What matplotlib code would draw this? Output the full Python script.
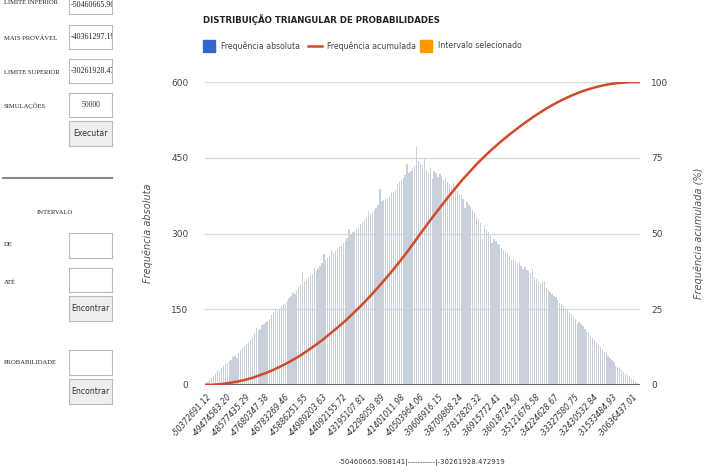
import matplotlib.pyplot as plt
from matplotlib.patches import Rectangle
import numpy as np

plt.rcParams['font.family'] = ['DejaVu Sans']

# absolute frequency per bin
freq = [
    3, 6, 10, 13, 18, 22, 30, 27, 33, 38,
    41, 44, 47, 50, 55, 57, 54, 63, 70, 73,
    78, 81, 86, 90, 95, 103, 112, 106, 110, 118,
    121, 124, 127, 131, 138, 144, 151, 146, 150, 157,
    161, 163, 166, 172, 177, 183, 180, 186, 194, 200,
    224, 205, 209, 213, 218, 220, 232, 226, 230, 236,
    241, 259, 247, 251, 256, 268, 262, 265, 270, 274,
    276, 281, 286, 292, 308, 299, 303, 305, 309, 310,
    318, 322, 326, 333, 344, 338, 341, 347, 351, 356,
    389, 364, 366, 370, 368, 374, 380, 382, 386, 398,
    402, 406, 410, 415, 437, 420, 424, 430, 433, 472,
    444, 438, 436, 448, 426, 419, 430, 408, 424, 420,
    411, 418, 414, 405, 409, 402, 398, 393, 400, 390,
    384, 378, 376, 369, 350, 362, 357, 353, 346, 340,
    332, 328, 320, 290, 316, 309, 302, 296, 282, 289,
    285, 279, 277, 272, 268, 263, 259, 254, 247, 250,
    245, 241, 243, 236, 230, 233, 227, 226, 221, 230,
    213, 210, 205, 200, 203, 206, 192, 188, 184, 180,
    176, 174, 168, 163, 160, 157, 150, 151, 145, 141,
    135, 131, 120, 124, 121, 116, 110, 104, 102, 97,
    93, 90, 84, 80, 76, 72, 66, 63, 58, 54,
    49, 45, 38, 36, 33, 29, 26, 22, 20, 17,
    12, 9, 6, 4, 2,
]

tick_labels = [
    '-50372691.12', '-49474563.20', '-48577435.29', '-47680347.38',
    '-46783269.46', '-45886251.55', '-44989203.63', '-44092155.72',
    '-43195107.81', '-42298059.89', '-41401011.98', '-40503964.06',
    '-39606916.15', '-38709868.24', '-37812820.32', '-36915772.41',
    '-36018724.50', '-35121676.58', '-34224628.67', '-33327580.75',
    '-32430532.84', '-31533484.93', '-30636437.01',
]

left_ticks = [0, 150, 300, 450, 600]
right_ticks = [0, 25, 50, 75, 100]

lim_inf = '-50460665.908141'
lim_sup = '-30261928.472919'

fig = plt.figure(figsize=(7.07, 4.72), dpi=100)
W, H = 707, 472

ax = fig.add_axes([205 / W, 1 - 385 / H, 435 / W, 303 / H])
x = np.arange(len(freq))
ax.bar(x, freq, width=0.65, color='#c8d0db', zorder=2)
ax.set_xlim(-0.5, len(freq) - 0.5)
ax.set_ylim(0, 600)
ax.set_yticks(left_ticks)
ax.set_yticklabels([str(t) for t in left_ticks], color='#444444', fontsize=6.5)
ax.grid(axis='y', color='#d9d9d9', linewidth=1, zorder=0)
ax.axhline(0, color='#555555', linewidth=1.2, zorder=3)
for s in ax.spines.values():
    s.set_visible(False)
ax.tick_params(length=0, pad=12)

ax.set_xticks(np.arange(len(tick_labels)) * 10 + 0.5)
ax.set_xticklabels(tick_labels, rotation=48, ha='right', rotation_mode='anchor',
                   fontsize=5.6, color='#333333', style='italic')
ax.tick_params(axis='x', pad=5)

ax.set_ylabel('Frequência absoluta', fontsize=7, color='#555555', style='italic',
              labelpad=13)

ax2 = ax.twinx()
cum = np.cumsum(freq) / np.sum(freq) * 100
ax2.plot(x, cum, color='#cf4b2b', linewidth=1.8, zorder=4)
ax2.set_ylim(0, 100)
ax2.set_yticks(right_ticks)
ax2.set_yticklabels([str(t) for t in right_ticks], color='#444444', fontsize=6.5)
ax2.tick_params(length=0, pad=8)
for s in ax2.spines.values():
    s.set_visible(False)
ax2.set_ylabel('Frequência acumulada (%)', fontsize=7, color='#555555', style='italic',
               labelpad=18, rotation=90)

# title and legend
fig.text(203 / W, 1 - 20 / H, 'DISTRIBUIÇÃO TRIANGULAR DE PROBABILIDADES',
         fontsize=6.2, fontweight='bold', color='#222222', va='center')
fig.patches.append(Rectangle((203 / W, 1 - 52 / H), 12 / W, 12 / H,
                             transform=fig.transFigure, color='#3366cc'))
fig.text(221 / W, 1 - 46 / H, 'Frequência absoluta', fontsize=5.6, color='#444444', va='center')
fig.lines.append(plt.Line2D([308 / W, 322 / W], [1 - 46 / H, 1 - 46 / H],
                            transform=fig.transFigure, color='#cf4b2b', linewidth=1.8))
fig.text(327 / W, 1 - 46 / H, 'Frequência acumulada', fontsize=5.6, color='#444444', va='center')
fig.patches.append(Rectangle((420 / W, 1 - 52 / H), 12 / W, 12 / H,
                             transform=fig.transFigure, color='#ff9900'))
fig.text(438 / W, 1 - 46 / H, 'Intervalo selecionado', fontsize=5.6, color='#444444', va='center')

fig.text(422 / W, 1 - 463 / H, lim_inf + '|-----------|' + lim_sup,
         fontsize=5, color='#333333', ha='center', va='center')

# left form panel
serif = 'Liberation Serif'


def label(y, s, xx=4, ha='left'):
    fig.text(xx / W, 1 - y / H, s, fontsize=4.8, family=serif, color='#222222',
             va='center', ha=ha)


def field(y0, y1, s='', face='white', center=False, fam=serif):
    bx = fig.add_axes([69 / W, 1 - y1 / H, 43 / W, (y1 - y0) / H])
    bx.set_xticks([])
    bx.set_yticks([])
    bx.set_facecolor(face)
    for sp in bx.spines.values():
        sp.set_color('#bbbbbb')
        sp.set_linewidth(0.8)
    if s:
        if center:
            bx.text(0.5, 0.5, s, fontsize=5.6, family=fam, color='#333333',
                    va='center', ha='center', transform=bx.transAxes)
        else:
            bx.text(0.04, 0.5, s, fontsize=5.8, family=fam, color='#222222',
                    va='center', ha='left', transform=bx.transAxes, clip_on=True)


label(3, 'LIMITE INFERIOR')
field(-4, 14, '-50460665.908141')
label(38, 'MAIS PROVÁVEL')
field(25, 49, '-40361297.19')
label(72, 'LIMITE SUPERIOR')
field(59, 83, '-30261928.472919')
label(106, 'SIMULAÇÕES')
field(93, 117, '50000', center=True)
field(121, 146, 'Executar', face='#eeeeee', center=True, fam='DejaVu Sans')

fig.lines.append(plt.Line2D([3 / W, 112 / W], [1 - 178 / H, 1 - 178 / H],
                            transform=fig.transFigure, color='#888888', linewidth=1.5))
label(213, 'INTERVALO', xx=55, ha='center')
label(245, 'DE')
field(233, 258)
label(282, 'ATÉ')
field(268, 292)
field(296, 321, 'Encontrar', face='#eeeeee', center=True, fam='DejaVu Sans')
label(363, 'PROBABILIDADE')
field(350, 375)
field(379, 404, 'Encontrar', face='#eeeeee', center=True, fam='DejaVu Sans')

fig.savefig('out.png', dpi=100)
